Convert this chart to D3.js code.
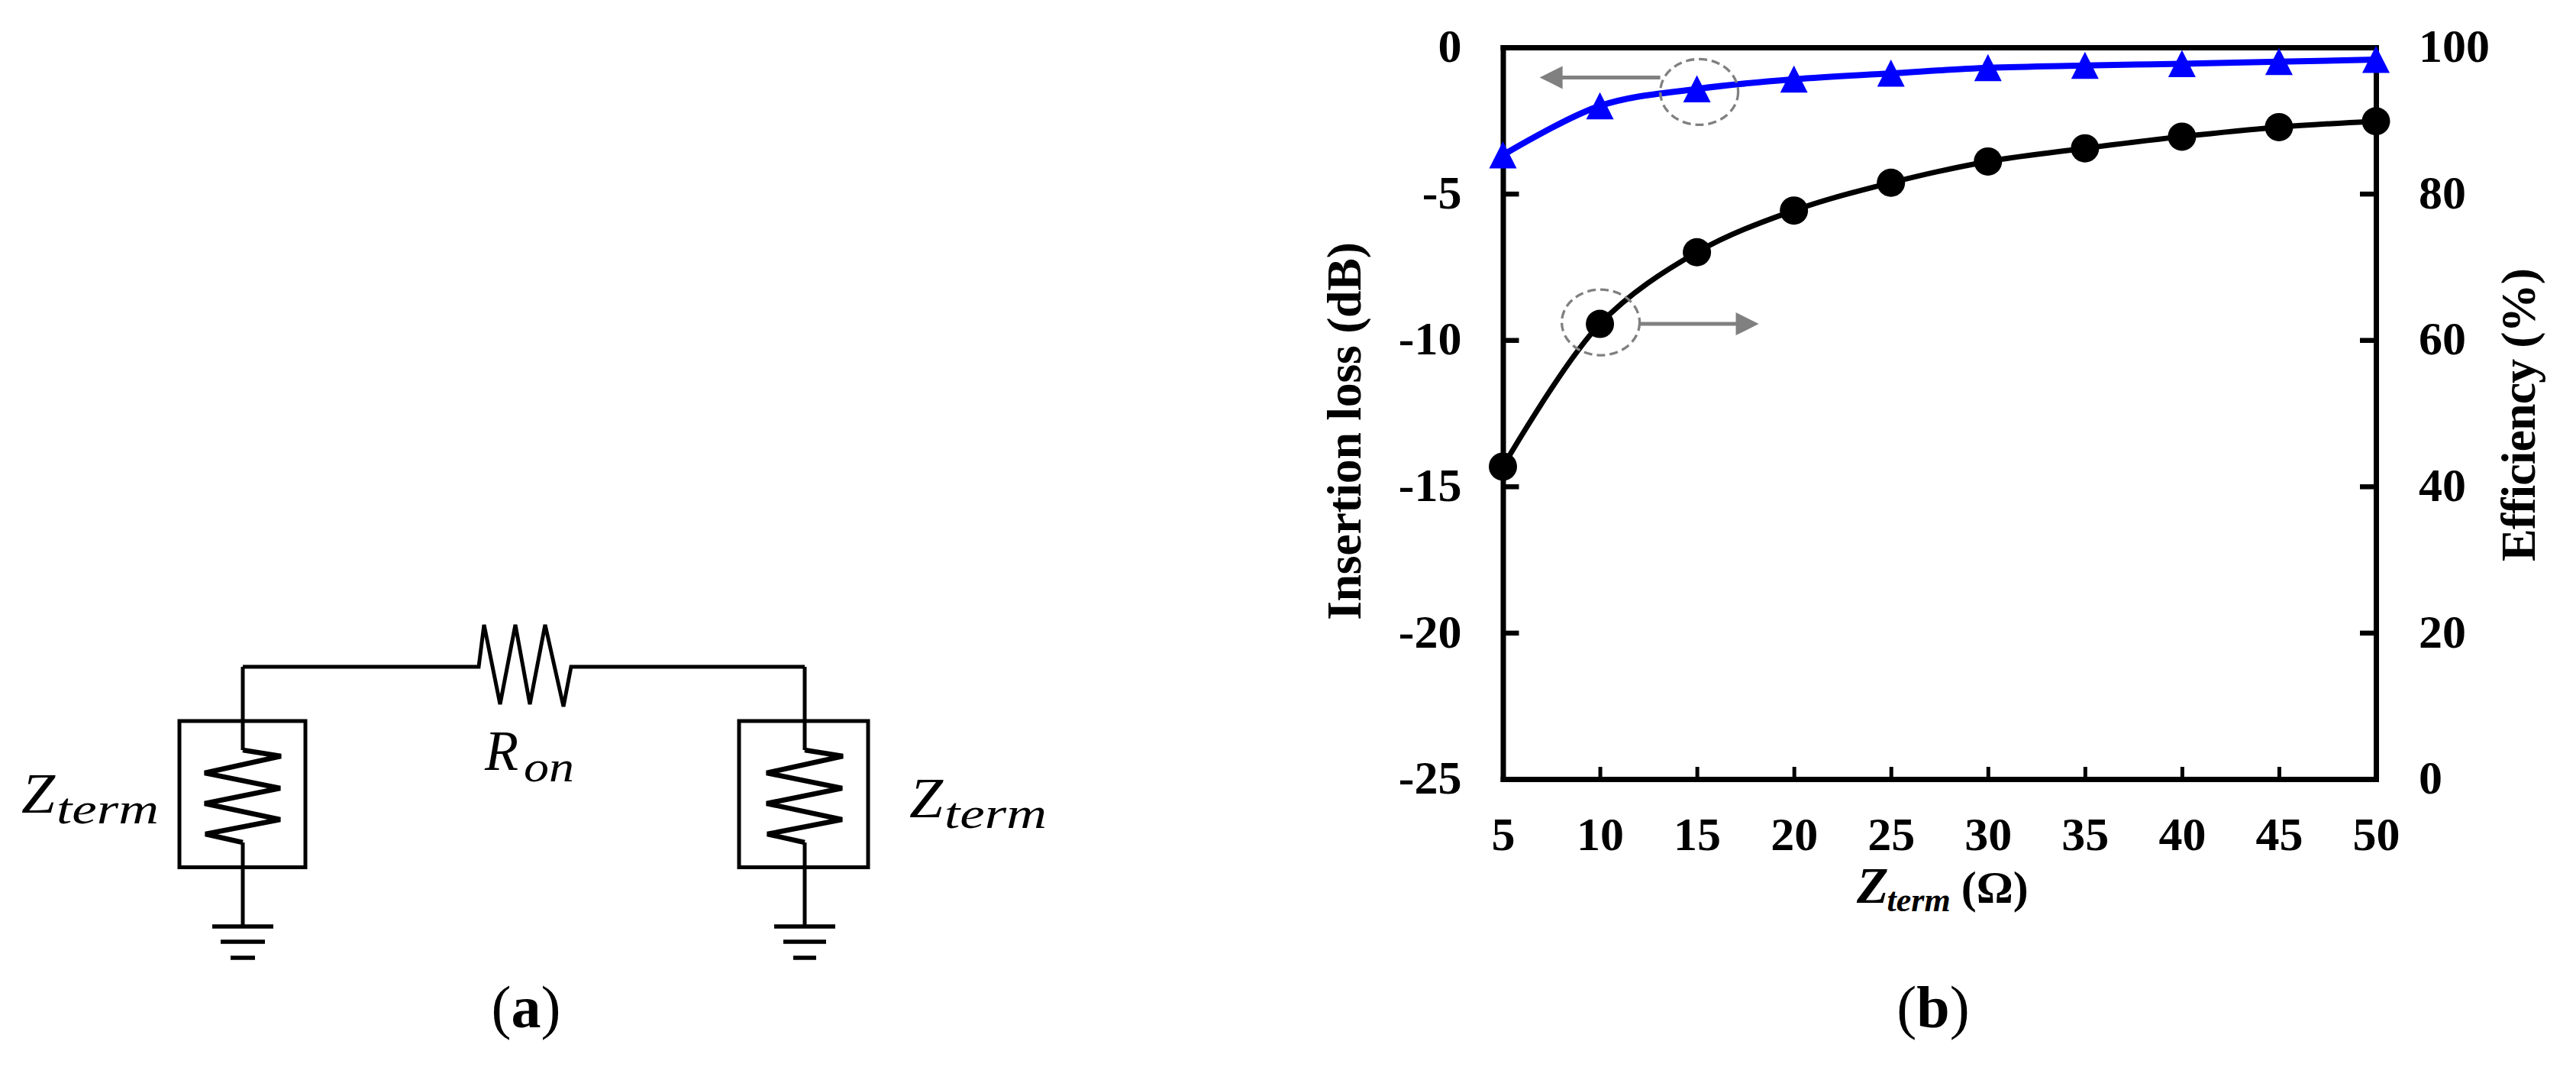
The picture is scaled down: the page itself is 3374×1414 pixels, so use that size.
<!DOCTYPE html>
<html lang="en">
  <head>
    <meta charset="UTF-8" />
    <title>Insertion loss and efficiency</title>
    <script src="https://d3js.org/d3.v7.min.js"></script>
    <style>
      html, body { margin: 0; background: #fff; }
      svg { display: block; }
      text { font-family: "Liberation Serif", serif; fill: #000; }
      .axis text { font-size: 62px; font-weight: bold; }
      .title { font-size: 64px; font-weight: bold; }
      .math { font-style: italic; }
    </style>
  </head>
  <body>
    <script>
      // values
      var zTerm = [5, 10, 15, 20, 25, 30, 35, 40, 45, 50];
      var insertionLoss = [-3.68, -2.0, -1.42, -1.09, -0.89, -0.7, -0.62, -0.56, -0.49, -0.42];
      var efficiency = [42.7, 62.2, 72, 77.7, 81.5, 84.4, 86.2, 87.8, 89.1, 89.9];
      var lossTicks = [0, -5, -10, -15, -20, -25];
      var effTicks = [0, 20, 40, 60, 80, 100];

      var w = 3374;
      var h = 1414;
      var svg = d3.select("body").append("svg").attr("width", w).attr("height", h);

      /////// (b) grafica
      var x = d3.scaleLinear().domain([5, 50]).range([1968.5, 3112]);
      var yLoss = d3.scaleLinear().domain([-25, 0]).range([1020, 62]);
      var yEff = d3.scaleLinear().domain([0, 100]).range([1020, 62]);

      function styleAxis(g, domainWidth, tickWidth) {
        g.attr("class", "axis");
        g.select(".domain").attr("stroke", "#000").attr("stroke-width", domainWidth).attr("stroke-linecap", "square");
        g.selectAll(".tick line").attr("stroke", "#000").attr("stroke-width", tickWidth);
        g.selectAll("text").attr("fill", "#000").attr("font-family", null);
      }

      svg.append("g")
        .attr("transform", "translate(0,1020)")
        .call(d3.axisBottom(x).tickValues(zTerm).tickSize(-16).tickSizeOuter(0).tickPadding(49))
        .call(styleAxis, 7, 5)
        .call((g) => g.selectAll(".tick line").filter((d) => d == 5 || d == 50).remove());

      svg.append("g")
        .attr("transform", "translate(0,62)")
        .call(d3.axisTop(x).tickValues([]).tickSizeOuter(0))
        .call(styleAxis, 7, 5);

      // tickFormat con String para que salga el guion corto
      svg.append("g")
        .attr("transform", "translate(1968.5,0)")
        .call(d3.axisLeft(yLoss).tickValues(lossTicks).tickFormat(String).tickSize(-21).tickSizeOuter(0).tickPadding(54))
        .call(styleAxis, 7, 6.5)
        .call((g) => g.selectAll(".tick text").attr("dy", ".3em"));

      svg.append("g")
        .attr("transform", "translate(3112,0)")
        .call(d3.axisRight(yEff).tickValues(effTicks).tickSize(-21).tickSizeOuter(0).tickPadding(56))
        .call(styleAxis, 7, 6.5)
        .call((g) => g.selectAll(".tick text").attr("dy", ".3em"));

      // curvas
      var lineEff = d3.line().x((d, i) => x(zTerm[i])).y((d) => yEff(d)).curve(d3.curveCatmullRom);
      var lineLoss = d3.line().x((d, i) => x(zTerm[i])).y((d) => yLoss(d)).curve(d3.curveCatmullRom);

      svg.append("path").attr("d", lineEff(efficiency)).attr("fill", "none").attr("stroke", "#000").attr("stroke-width", 7);
      svg.append("path").attr("d", lineLoss(insertionLoss)).attr("fill", "none").attr("stroke", "#0000ff").attr("stroke-width", 8);

      svg.selectAll("ellipse.eff")
        .data(efficiency)
        .enter()
        .append("ellipse")
        .attr("class", "eff")
        .attr("cx", (d, i) => x(zTerm[i]))
        .attr("cy", (d) => yEff(d))
        .attr("rx", 18.5)
        .attr("ry", 18.5)
        .attr("fill", "#000");

      svg.selectAll("path.tri")
        .data(insertionLoss)
        .enter()
        .append("path")
        .attr("class", "tri")
        .attr("d", "M0,-18L18,17.5L-18,17.5Z")
        .attr("transform", (d, i) => "translate(" + x(zTerm[i]) + "," + yLoss(d) + ")")
        .attr("fill", "#0000ff");

      // anotaciones en gris
      var gray = "#808080";
      function ring(cx, cy) {
        svg.append("ellipse")
          .attr("cx", cx).attr("cy", cy).attr("rx", 51).attr("ry", 43)
          .attr("fill", "none").attr("stroke", gray).attr("stroke-width", 3.3).attr("stroke-dasharray", "11 6");
      }
      function arrow(x1, x2, y) {
        var dir = x2 > x1 ? 1 : -1;
        svg.append("line").attr("x1", x1).attr("x2", x2 - dir * 28).attr("y1", y).attr("y2", y)
          .attr("stroke", gray).attr("stroke-width", 5);
        svg.append("path")
          .attr("d", d3.line()([[x2, y], [x2 - dir * 30, y - 15], [x2 - dir * 30, y + 15]]) + "Z")
          .attr("fill", gray);
      }
      ring(x(15) + 3, yLoss(insertionLoss[2]) + 4);
      arrow(x(15) - 48, x(15) - 206, yLoss(insertionLoss[2]) - 15);
      ring(x(10) + 1, yEff(efficiency[1]) - 2);
      arrow(x(10) + 51, x(10) + 208, yEff(efficiency[1]));

      // titulos
      svg.append("text").attr("class", "title")
        .attr("transform", "translate(1782,564.5) rotate(-90)")
        .attr("text-anchor", "middle")
        .attr("textLength", 495)
        .text("Insertion loss (dB)");
      svg.append("text").attr("class", "title")
        .attr("transform", "translate(3320,543) rotate(-90)")
        .attr("text-anchor", "middle")
        .attr("textLength", 384)
        .text("Efficiency (%)");

      var xt = svg.append("text").attr("class", "title").attr("x", 2432).attr("y", 1182);
      xt.append("tspan").attr("font-style", "italic").attr("font-size", 68).text("Z");
      xt.append("tspan").attr("font-style", "italic").attr("font-size", 44).attr("dy", 11).attr("dx", -2).text("term");
      xt.append("tspan").attr("font-size", 60).attr("dy", -11).attr("dx", 14).text("(Ω)");

      /////// (a) circuito
      function wire(points, width) {
        svg.append("path")
          .attr("d", d3.line()(points))
          .attr("fill", "none")
          .attr("stroke", "#000")
          .attr("stroke-width", width)
          .attr("stroke-linejoin", "miter");
      }

      wire([[318, 873], [627, 873], [634, 818], [655, 922], [675, 818], [694, 922], [714, 818], [738, 925], [748, 873], [1054, 873]], 5);

      function branch(cx, boxL, boxR, gnd) {
        svg.append("rect")
          .attr("x", boxL).attr("y", 944).attr("width", boxR - boxL).attr("height", 191.5)
          .attr("fill", "none").attr("stroke", "#000").attr("stroke-width", 5);
        wire([[cx, 873], [cx, 982]], 5);
        wire([[cx, 982], [cx + 50, 990], [cx - 50, 1012], [cx + 49, 1032], [cx - 50, 1052], [cx + 49, 1073], [cx - 49, 1092], [cx, 1103]], 6.5);
        wire([[cx, 1103], [cx, 1213]], 5);
        wire([[cx - gnd[0], 1213], [cx + gnd[0], 1213]], 5.5);
        wire([[cx - gnd[1], 1233], [cx + gnd[1], 1233]], 5.5);
        wire([[cx - gnd[2], 1254], [cx + gnd[2], 1254]], 5.5);
      }
      branch(318, 235, 400, [40, 29, 16]);
      branch(1054, 968, 1137, [40, 28, 15]);

      function mathLabel(main, sub, xPos, yPos, lenMain, subOffset, lenSub, drop) {
        svg.append("text").attr("class", "math").attr("x", xPos).attr("y", yPos)
          .attr("font-size", 74).attr("textLength", lenMain).attr("lengthAdjust", "spacingAndGlyphs").text(main);
        svg.append("text").attr("class", "math").attr("x", xPos + subOffset).attr("y", yPos + drop)
          .attr("font-size", 58).attr("textLength", lenSub).attr("lengthAdjust", "spacingAndGlyphs").text(sub);
      }
      mathLabel("Z", "term", 28, 1064, 44, 46, 134, 14);
      mathLabel("Z", "term", 1191, 1070, 44, 46, 134, 14);
      mathLabel("R", "on", 635, 1008, 44, 51, 66, 15);

      // rotulos
      var capA = svg.append("text").attr("x", 689).attr("y", 1345).attr("text-anchor", "middle").attr("font-size", 78);
      capA.append("tspan").text("(");
      capA.append("tspan").attr("font-weight", "bold").text("a");
      capA.append("tspan").text(")");
      var capB = svg.append("text").attr("x", 2532).attr("y", 1345).attr("text-anchor", "middle").attr("font-size", 78);
      capB.append("tspan").text("(");
      capB.append("tspan").attr("font-weight", "bold").text("b");
      capB.append("tspan").text(")");
    </script>
  </body>
</html>
